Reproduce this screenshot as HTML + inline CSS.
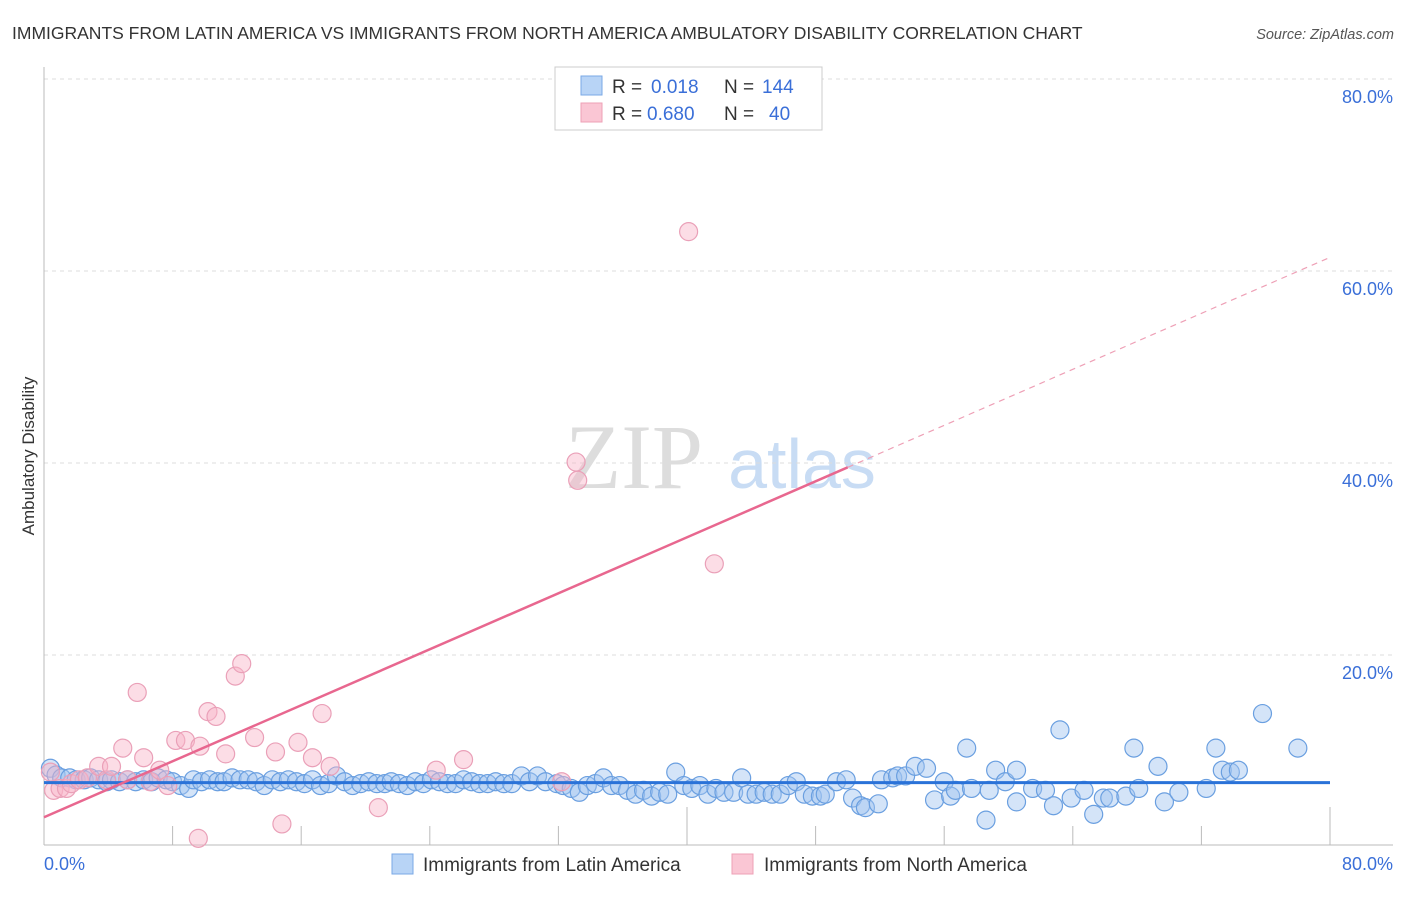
<!DOCTYPE html>
<html><head><meta charset="utf-8"><style>
body{margin:0;background:#fff;font-family:"Liberation Sans",sans-serif;}
</style></head><body>
<svg id="chart" width="1406" height="892" xmlns="http://www.w3.org/2000/svg" style="font-family:'Liberation Sans',sans-serif">
<text x="12" y="39" font-size="17.5" fill="#333">IMMIGRANTS FROM LATIN AMERICA VS IMMIGRANTS FROM NORTH AMERICA AMBULATORY DISABILITY CORRELATION CHART</text>
<text x="1394" y="39" font-size="14.5" fill="#555" font-style="italic" text-anchor="end">Source: ZipAtlas.com</text>
<g>
<text x="634" y="488" font-size="92" font-family="'Liberation Serif',serif" fill="#ddd" text-anchor="middle">ZIP</text>
<text x="802" y="488" font-size="70" fill="#c8dcf4" text-anchor="middle">atlas</text>
</g>
<g id="grid"></g>
<g id="axes"></g>
<g id="marks"></g>
<text transform="translate(34,456) rotate(-90)" font-size="17" fill="#333" text-anchor="middle">Ambulatory Disability</text>
<g>
<rect x="555" y="67" width="267" height="63" fill="#fff" stroke="#ccc"/>
<rect x="581" y="76" width="21" height="19" fill="#b8d4f6" stroke="#7aa8e6"/>
<text x="612" y="93" font-size="19" fill="#333">R = </text><text x="651" y="93" font-size="19" fill="#3a6fd8">0.018</text>
<text x="724" y="93" font-size="19" fill="#333">N = </text><text x="762" y="93" font-size="19" fill="#3a6fd8">144</text>
<rect x="581" y="103" width="21" height="19" fill="#fac6d4" stroke="#eea0b6"/>
<text x="612" y="120" font-size="19" fill="#333">R = </text><text x="647" y="120" font-size="19" fill="#3a6fd8">0.680</text>
<text x="724" y="120" font-size="19" fill="#333">N = </text><text x="769" y="120" font-size="19" fill="#3a6fd8">40</text>
</g>
<g>
<rect x="392" y="854" width="21" height="20" fill="#b8d4f6" stroke="#7aa8e6"/>
<text x="423" y="871" font-size="19" fill="#333">Immigrants from Latin America</text>
<rect x="732" y="854" width="21" height="20" fill="#fac6d4" stroke="#eea0b6"/>
<text x="764" y="871" font-size="19" fill="#333">Immigrants from North America</text>
</g>
</svg>
<script>
const blueX=[0.4,0.75,1.1,1.6,2.0,2.5,2.9,3.4,3.9,4.2,4.7,5.2,5.7,6.2,6.7,7.1,7.6,8.0,8.5,9.0,9.3,9.8,10.3,10.8,11.2,11.7,12.2,12.7,13.2,13.7,14.2,14.7,15.2,15.7,16.2,16.7,17.2,17.7,18.2,18.7,19.2,19.7,20.2,20.7,21.2,21.6,22.1,22.6,23.1,23.6,24.1,24.6,25.1,25.6,26.1,26.6,27.1,27.6,28.1,28.6,29.1,29.7,30.2,30.7,31.2,31.9,32.3,32.8,33.3,33.8,34.3,34.8,35.3,35.8,36.3,36.8,37.3,37.8,38.3,38.8,39.3,39.8,40.3,40.8,41.3,41.8,42.3,42.9,43.4,43.8,44.3,44.8,45.3,45.8,46.3,46.8,47.3,47.8,48.3,48.6,49.3,49.9,50.3,50.8,51.1,51.9,52.1,52.8,53.1,53.6,54.2,54.9,55.4,56.0,56.4,56.7,57.4,57.7,58.6,58.8,59.2,59.8,60.5,60.5,61.5,62.3,62.8,63.2,63.9,64.7,65.3,65.9,66.3,67.3,67.8,68.1,69.3,69.7,70.6,72.3,72.9,73.3,73.8,74.3,75.8,78.0];
const blueY=[8.2,7.5,7.2,7.2,7.0,7.0,7.2,7.0,6.8,7.0,6.8,7.0,6.8,7.0,6.8,7.2,7.0,6.8,6.4,6.1,7.0,6.8,7.0,6.8,6.8,7.2,7.0,7.0,6.8,6.4,7.0,6.8,7.0,6.8,6.6,7.0,6.4,6.6,7.4,6.8,6.4,6.6,6.8,6.6,6.6,6.8,6.6,6.4,6.8,6.6,7.0,6.8,6.6,6.6,7.0,6.8,6.6,6.6,6.8,6.6,6.6,7.4,6.8,7.4,6.8,6.6,6.4,6.1,5.7,6.4,6.6,7.2,6.4,6.4,5.9,5.5,5.9,5.3,5.7,5.5,7.8,6.4,6.1,6.4,5.5,6.1,5.7,5.7,7.2,5.5,5.5,5.7,5.5,5.5,6.4,6.8,5.5,5.3,5.3,5.5,6.8,7.0,5.1,4.3,4.1,4.5,7.0,7.2,7.4,7.4,8.4,8.2,4.9,6.8,5.3,5.9,10.3,6.1,2.8,5.9,8.0,6.8,4.7,8.0,6.1,5.9,4.3,12.2,5.1,5.9,3.4,5.1,5.1,5.3,10.3,6.1,8.4,4.7,5.7,6.1,10.3,8.0,7.8,8.0,13.9,10.3];
const pinkX=[0.4,0.6,1.0,1.4,1.7,2.2,2.7,3.4,3.9,4.2,4.9,5.2,5.8,6.2,6.6,7.2,7.7,8.2,8.8,9.6,9.7,10.2,10.7,11.3,11.9,12.3,13.1,14.4,14.8,15.8,16.7,17.3,17.8,20.8,24.4,26.1,32.2,33.1,33.2,40.1,41.7];
const pinkY=[7.8,5.9,6.1,6.1,6.6,7.0,7.2,8.4,7.0,8.4,10.3,7.0,16.1,9.3,6.8,8.0,6.4,11.1,11.1,0.9,10.5,14.1,13.6,9.7,17.8,19.1,11.4,9.9,2.4,10.9,9.3,13.9,8.4,4.1,8.0,9.1,6.8,40.1,38.2,64.1,29.5];
const yTicks=[20,40,60,80];
const yTickLabels=["20.0%","40.0%","60.0%","80.0%"];
const xTicks=[0,8,16,24,32,40,48,56,64,72,80];
const blueTrend=[6.7,0.0];   // intercept, slope
const pinkTrend=[3.1,0.729]; // intercept, slope
const pinkSolidEnd=50;

const NS="http://www.w3.org/2000/svg";
const X0=44,X1=1330,Y0=847,Y80=79;
const sx=v=>X0+(v/80)*(X1-X0);
const sy=v=>Y0-(v/80)*(Y0-Y80);
function mk(tag,attrs,parent){const e=document.createElementNS(NS,tag);for(const k in attrs)e.setAttribute(k,attrs[k]);parent.appendChild(e);return e;}
const grid=document.getElementById('grid'),axes=document.getElementById('axes'),marks=document.getElementById('marks');
yTicks.forEach((t,i)=>{
  const l=mk('line',{x1:X0,x2:1393,y1:sy(t),y2:sy(t),stroke:'#ddd','stroke-dasharray':'4,4'},grid);
  
  
  const tx=mk('text',{x:1393,y:sy(t)+24,'font-size':18,fill:'#3a6fd8','text-anchor':'end'},axes);
  tx.textContent=yTickLabels[i];
  
  
});
const ax=mk('line',{x1:X0,x2:1393,y1:845,y2:845,stroke:'#bbb'},axes);


const ay=mk('line',{x1:X0,x2:X0,y1:67,y2:845,stroke:'#bbb'},axes);


xTicks.forEach((t,i)=>{
  if(i===0)return;
  const tall=(t===40||t===80);
  const tk=mk('line',{x1:sx(t),x2:sx(t),y1:tall?807:826,y2:845,stroke:'#bbb'},axes);
  
  
});
const xl0=mk('text',{x:44,y:870,'font-size':18,fill:'#3a6fd8'},axes);xl0.textContent='0.0%';


const xl1=mk('text',{x:1393,y:870,'font-size':18,fill:'#3a6fd8','text-anchor':'end'},axes);xl1.textContent='80.0%';



blueX.forEach((x,i)=>{
  const c=mk('circle',{cx:sx(x),cy:sy(blueY[i]),r:9,fill:'rgba(160,196,240,0.45)',stroke:'#6a9fe0','stroke-width':1.2},marks);
  
  
});
pinkX.forEach((x,i)=>{
  const c=mk('circle',{cx:sx(x),cy:sy(pinkY[i]),r:9,fill:'rgba(248,180,200,0.45)',stroke:'#eaa0b8','stroke-width':1.2},marks);
  
  
});
const bt=mk('line',{x1:sx(0),x2:sx(80),y1:sy(blueTrend[0]),y2:sy(blueTrend[0]+blueTrend[1]*80),stroke:'#2a72d8','stroke-width':3},marks);


const pt=mk('line',{x1:sx(0),x2:sx(pinkSolidEnd),y1:sy(pinkTrend[0]),y2:sy(pinkTrend[0]+pinkTrend[1]*pinkSolidEnd),stroke:'#e8678f','stroke-width':2.5},marks);


const pd=mk('line',{x1:sx(pinkSolidEnd),x2:sx(80),y1:sy(pinkTrend[0]+pinkTrend[1]*pinkSolidEnd),y2:sy(pinkTrend[0]+pinkTrend[1]*80),stroke:'#eea0b6','stroke-width':1.2,'stroke-dasharray':'6,5'},marks);


</script>
</body></html>
